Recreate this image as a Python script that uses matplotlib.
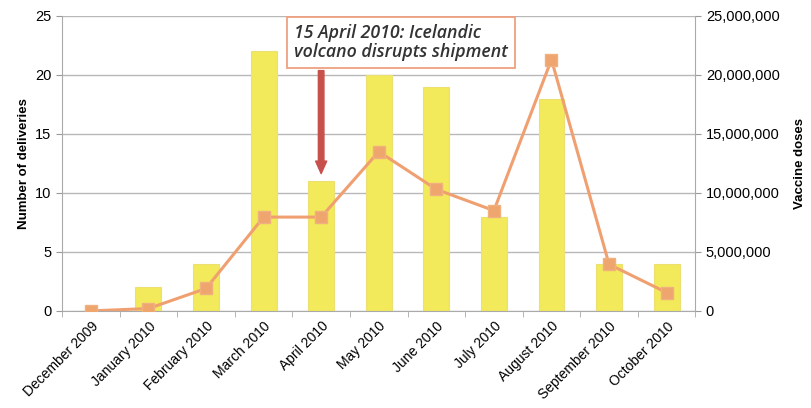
import numpy as np
import matplotlib.pyplot as plt
from matplotlib.ticker import FuncFormatter

months = ['December 2009', 'January 2010', 'February 2010', 'March 2010', 'April 2010',
          'May 2010', 'June 2010', 'July 2010', 'August 2010', 'September 2010', 'October 2010']
deliveries = [0, 2, 4, 22, 11, 20, 19, 8, 18, 4, 4]
doses = [0, 200000, 1900000, 7950000, 7950000, 13500000, 10300000, 8500000, 21300000, 3950000, 1550000]

plt.rcParams['font.family'] = ['Liberation Sans', 'DejaVu Sans']

fig = plt.figure(figsize=(8.11, 4.08), dpi=100)
ax = fig.add_axes([0.0765, 0.238, 0.781, 0.723])
x = np.arange(len(months))

ax.bar(x, deliveries, width=0.45, color='#f2ea5a', edgecolor='#ece070', linewidth=0.8, zorder=2)
ax.set_ylim(0, 25)
ax.set_xlim(-0.5, len(months) - 0.5)
ax.set_yticks(range(0, 26, 5))
ax.yaxis.grid(True, color='#b8b8b8', linewidth=1)
ax.set_axisbelow(True)
ax.set_xticks(x)
ax.set_xticklabels(months, rotation=45, ha='right', rotation_mode='anchor', fontsize=10)
ax.set_xticks(np.arange(-0.5, len(months), 1), minor=True)
ax.tick_params(axis='x', which='minor', length=4, color='#aaaaaa')
ax.tick_params(axis='y', labelsize=10.5, length=4, color='#999999')
ax.tick_params(axis='x', which='major', length=0, pad=6)
ax.set_ylabel('Number of deliveries', fontsize=9.5, fontweight='bold')
for s in ['top', 'right']:
    ax.spines[s].set_visible(False)
ax.spines['left'].set_color('#aaaaaa')
ax.spines['bottom'].set_color('#aaaaaa')

ax2 = ax.twinx()
ax2.plot(x, doses, color='#f0a070', linewidth=2.2, marker='s', markersize=8,
         markerfacecolor='#eea56e', markeredgecolor='#f0b080', zorder=3)
ax2.set_ylim(0, 25000000)
ax2.set_yticks(range(0, 25000001, 5000000))
ax2.yaxis.set_major_formatter(FuncFormatter(lambda v, p: f'{int(v):,}'))
ax2.tick_params(axis='y', labelsize=10.5, length=4, color='#999999')
ax2.set_ylabel('Vaccine doses', fontsize=9.5, fontweight='bold', labelpad=10)
for s in ['top', 'left', 'bottom']:
    ax2.spines[s].set_visible(False)
ax2.spines['right'].set_color('#aaaaaa')

ax.text(3.53, 22.75, '15 April 2010: Icelandic\nvolcano disrupts shipment',
        fontsize=12.8, style='italic', fontweight='semibold', family='Open Sans',
        color='#333333', va='center', ha='left', linespacing=1.12, zorder=5,
        bbox=dict(boxstyle='square,pad=0.4', facecolor='white', edgecolor='#f0a080', linewidth=1.3))
ax.annotate('', xy=(4, 11.4), xytext=(4, 20.6),
            arrowprops=dict(arrowstyle='simple,head_width=0.8,head_length=0.9,tail_width=0.4',
                            color='#c8504c'),
            zorder=4)

fig.savefig('out.png', dpi=100)
